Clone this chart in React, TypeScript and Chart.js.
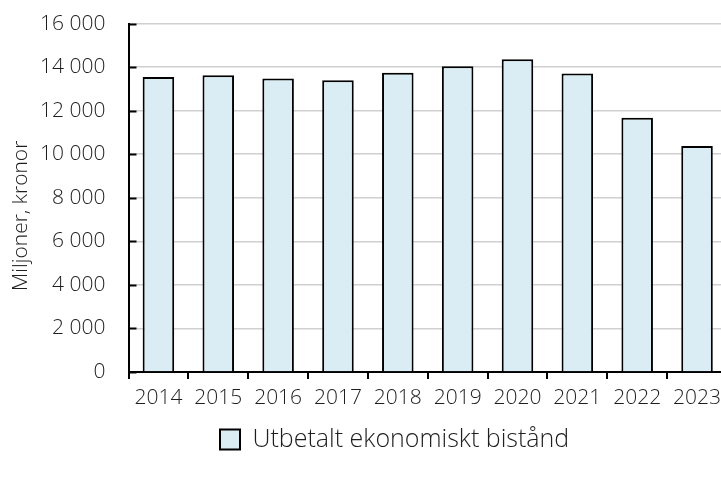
import { useEffect, useRef } from 'react';
import { Chart, registerables } from 'chart.js';

Chart.register(...registerables);

const years = ['2014', '2015', '2016', '2017', '2018', '2019', '2020', '2021', '2022', '2023'];
const utbetalt = [13550, 13630, 13480, 13400, 13740, 14040, 14360, 13710, 11680, 10380];
const seriesLabel = 'Utbetalt ekonomiskt bistånd';
const yTitle = 'Miljoner, kronor';
const yMin = 0;
const yMax = 16000;
const yStep = 2000;

const FONT = '"Open Sans", "DejaVu Sans", sans-serif';
const TEXT = '#1e1e1e';

function fmt(v: number): string {
  return String(v).replace(/\B(?=(\d{3})+(?!\d))/g, ' ');
}

const inwardTicks = {
  id: 'inwardTicks',
  afterDraw(chart: any) {
    const y = chart.scales.y;
    const ctx = chart.ctx;
    const left = chart.chartArea.left;
    ctx.save();
    ctx.strokeStyle = '#000';
    ctx.lineWidth = 2;
    y.ticks.forEach((t: any) => {
      const py = Math.round(y.getPixelForValue(t.value)) + 0.5;
      ctx.beginPath();
      ctx.moveTo(left, py);
      ctx.lineTo(left + 8, py);
      ctx.stroke();
    });
    ctx.restore();
  },
};

const yAxisTitle = {
  id: 'yAxisTitle',
  afterDraw(chart: any) {
    const ctx = chart.ctx;
    const { top, bottom } = chart.chartArea;
    ctx.save();
    ctx.translate(13, (top + bottom) / 2 + 18);
    ctx.rotate(-Math.PI / 2);
    ctx.textAlign = 'center';
    ctx.textBaseline = 'middle';
    ctx.fillStyle = TEXT;
    ctx.font = `300 21px ${FONT}`;
    ctx.fillText(yTitle, 0, 0);
    ctx.restore();
  },
};

const legendPlace = {
  id: 'legendPlace',
  afterUpdate(chart: any) {
    const l = chart.legend;
    if (!l || !l.lineWidths) return;
    const p = l.options.labels.padding;
    const itemW = l.lineWidths[0] - p;
    const start = (l.left + l.right - itemW) / 2;
    const dx = 212 - start;
    l.left += dx;
    l.right += dx;
  },
};

export default function App() {
  const ref = useRef<HTMLCanvasElement>(null);
  useEffect(() => {
    if (!ref.current) return;
    const chart = new Chart(ref.current, {
      type: 'bar',
      data: {
        labels: years,
        datasets: [
          {
            label: seriesLabel,
            data: utbetalt,
            backgroundColor: '#daedf4',
            borderColor: '#000',
            borderWidth: 2,
            barPercentage: 0.527,
            categoryPercentage: 1,
          },
        ],
      },
      options: {
        animation: false,
        responsive: true,
        maintainAspectRatio: false,
        layout: { padding: { top: 15, left: 0, right: 0, bottom: 0 } },
        plugins: {
          tooltip: { enabled: false },
          legend: {
            position: 'bottom',
            labels: {
              boxWidth: 20,
              boxHeight: 20,
              padding: 10,
              color: TEXT,
              font: { family: FONT, size: 25, weight: 300 as any },
            },
          },
        },
        scales: {
          x: {
            offset: true,
            grid: {
              offset: true,
              drawOnChartArea: false,
              drawTicks: true,
              tickLength: 7,
              color: '#000',
              lineWidth: 2,
            },
            border: { display: true, color: '#000', width: 2 },
            ticks: {
              color: TEXT,
              padding: 6,
              maxRotation: 0,
              autoSkip: false,
              font: { family: FONT, size: 21, weight: 300 as any },
            },
            afterFit(scale: any) {
              scale.height = 45;
            },
          },
          y: {
            min: yMin,
            max: yMax,
            grid: {
              drawTicks: true,
              tickLength: 20,
              tickColor: 'rgba(0,0,0,0)',
              color: '#d0d0d0',
              lineWidth: 1.5,
            },
            border: { display: true, color: '#000', width: 2 },
            ticks: {
              stepSize: yStep,
              color: TEXT,
              padding: 3,
              font: { family: FONT, size: 21, weight: 300 as any },
              callback: (v: any) => fmt(Number(v)),
            },
            title: { display: false, text: yTitle },
            afterFit(scale: any) {
              scale.width = 120.5;
            },
          },
        },
      },
      plugins: [inwardTicks, yAxisTitle, legendPlace],
    });
    return () => chart.destroy();
  }, []);

  return (
    <div
      style={{
        position: 'fixed',
        left: 0,
        top: 0,
        width: 721,
        height: 477,
        overflow: 'hidden',
        background: '#fff',
      }}
    >
      <div style={{ position: 'absolute', left: 8, top: 8, width: 719, height: 454 }}>
        <canvas ref={ref} />
      </div>
    </div>
  );
}
